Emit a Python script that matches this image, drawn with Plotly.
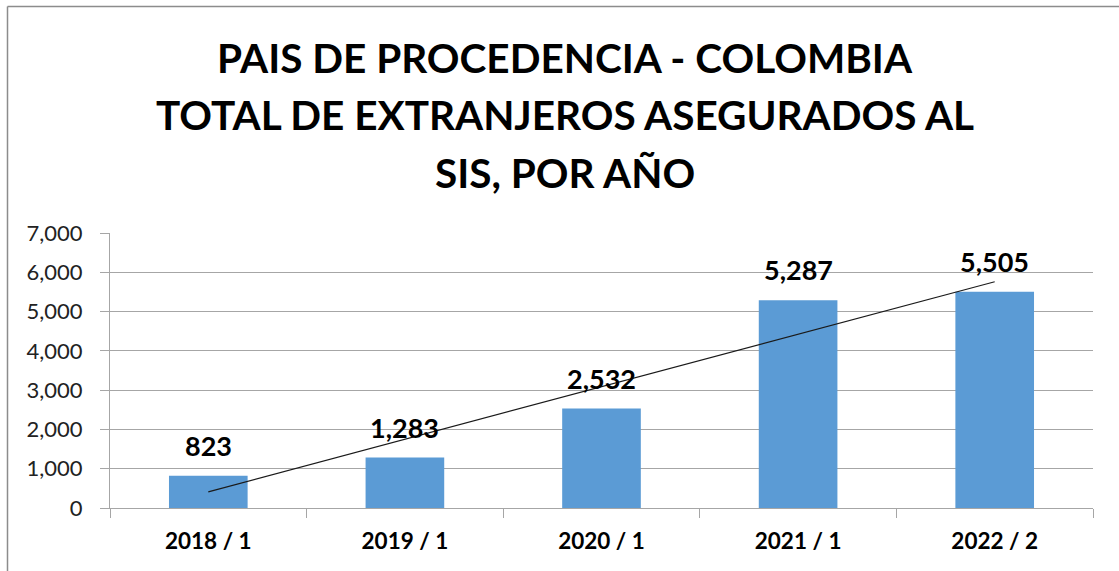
import plotly.graph_objects as go
import numpy as np

categories = ["2018 / 1", "2019 / 1", "2020 / 1", "2021 / 1", "2022 / 2"]
values = [823, 1283, 2532, 5287, 5505]
value_labels = ["823", "1,283", "2,532", "5,287", "5,505"]
y_ticks = [0, 1000, 2000, 3000, 4000, 5000, 6000, 7000]
y_tick_labels = ["0", "1,000", "2,000", "3,000", "4,000", "5,000", "6,000", "7,000"]
title_lines = ["PAIS DE PROCEDENCIA - COLOMBIA",
               "TOTAL DE EXTRANJEROS ASEGURADOS AL",
               "SIS, POR AÑO"]

# Linear trendline (least squares) computed from the data
xi = np.arange(len(values))
slope, intercept = np.polyfit(xi, values, 1)
trend = (slope * xi + intercept).tolist()

W, H = 1119, 571
L, R, T, B = 110, 26, 233, 63
pw, ph = W - L - R, H - T - B

def px_x(p):
    return (p - L) / pw

def px_y(p):
    return (H - B - p) / ph

FONT = "Lato"
TEXT = "#000000"
GRID = "#A6A6A6"

fig = go.Figure()
fig.add_trace(go.Bar(
    x=categories, y=values, width=0.4,
    marker=dict(color="#5B9BD5", line=dict(width=0)),
    hoverinfo="skip", showlegend=False,
))
fig.add_trace(go.Scatter(
    x=categories, y=trend, mode="lines",
    line=dict(color="#1a1a1a", width=1.2),
    hoverinfo="skip", showlegend=False,
))

annotations = []
for c, v, t in zip(categories, values, value_labels):
    annotations.append(dict(
        x=c, y=v, xref="x", yref="y", text=t, showarrow=False,
        yanchor="bottom", yshift=12,
        font=dict(family=FONT, size=27, color=TEXT, weight="bold"),
    ))

title_y = [57, 115, 173]
for line, yp in zip(title_lines, title_y):
    annotations.append(dict(
        x=px_x(565), y=px_y(yp), xref="paper", yref="paper",
        text=line, showarrow=False, xanchor="center", yanchor="middle",
        font=dict(family=FONT, size=40.5, color=TEXT, weight="bold"),
    ))

shapes = [
    dict(type="line", xref="paper", yref="paper",
         x0=px_x(7.5), x1=px_x(W + 5), y0=px_y(6.5), y1=px_y(6.5),
         line=dict(color="#8C8C8C", width=1.5)),
    dict(type="line", xref="paper", yref="paper",
         x0=px_x(7.5), x1=px_x(7.5), y0=px_y(6.5), y1=px_y(H + 5),
         line=dict(color="#8C8C8C", width=1.5)),
]

fig.update_layout(
    width=W, height=H,
    margin=dict(l=L, r=R, t=T, b=B, pad=0),
    paper_bgcolor="white", plot_bgcolor="white",
    annotations=annotations, shapes=shapes,
    bargap=0.6,
)
fig.update_xaxes(
    type="category", showgrid=False,
    showline=True, linecolor=GRID, linewidth=1,
    ticks="outside", tickson="boundaries", ticklen=9, tickcolor=GRID,
    tickfont=dict(family=FONT, size=22.5, color=TEXT, weight="bold"),
    ticklabelstandoff=13,
)
fig.update_yaxes(
    range=[0, 7000], tickvals=y_ticks, ticktext=y_tick_labels,
    showgrid=True, gridcolor=GRID, gridwidth=1,
    zeroline=False,
    showline=True, linecolor=GRID, linewidth=1,
    ticks="outside", ticklen=9, tickcolor=GRID,
    tickfont=dict(family=FONT, size=22, color="#222222"),
    ticklabelstandoff=13,
)

fig.write_html(
    "out.html",
    config={"displayModeBar": False},
    post_script="document.body.style.margin='0';document.body.style.overflow='hidden';",
)
